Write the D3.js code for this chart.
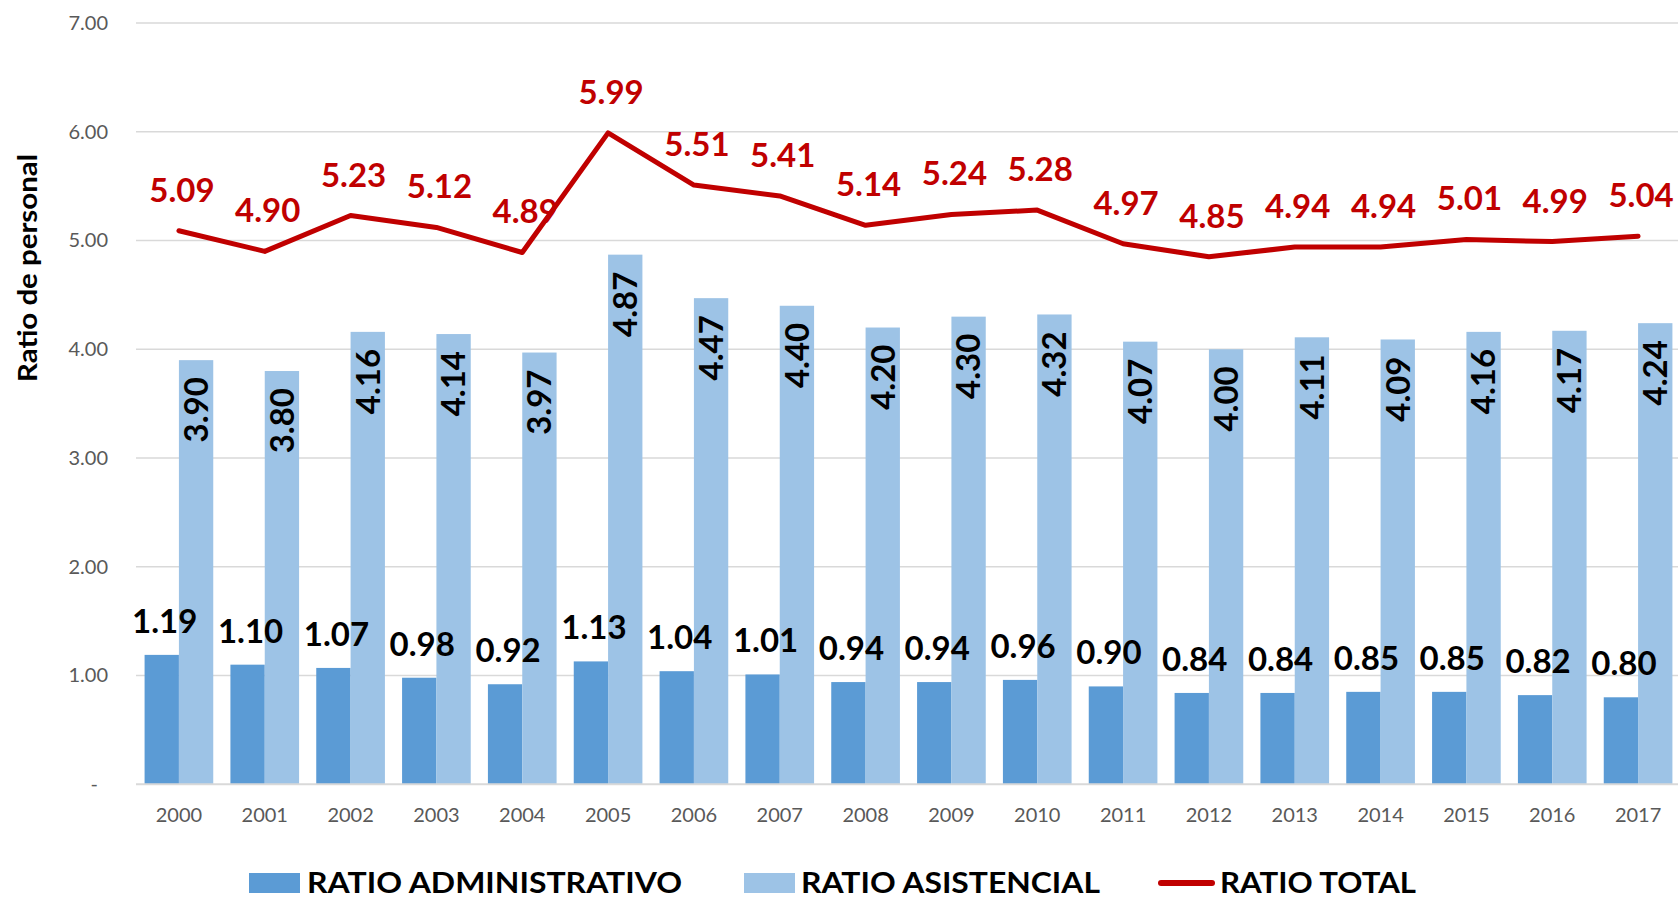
<!DOCTYPE html>
<html>
<head>
<meta charset="utf-8">
<script src="https://cdn.jsdelivr.net/npm/d3@7"></script>
<style>
  html, body { margin: 0; padding: 0; background: #fff; overflow: hidden; }
  svg { display: block; }
</style>
</head>
<body>
<svg id="chart" width="1678" height="897"></svg>
<script>
const years = ["2000","2001","2002","2003","2004","2005","2006","2007","2008","2009","2010","2011","2012","2013","2014","2015","2016","2017"];
const ratioAdministrativo = [1.19,1.10,1.07,0.98,0.92,1.13,1.04,1.01,0.94,0.94,0.96,0.90,0.84,0.84,0.85,0.85,0.82,0.80];
const ratioAsistencial = [3.90,3.80,4.16,4.14,3.97,4.87,4.47,4.40,4.20,4.30,4.32,4.07,4.00,4.11,4.09,4.16,4.17,4.24];
const ratioTotal = [5.09,4.90,5.23,5.12,4.89,5.99,5.51,5.41,5.14,5.24,5.28,4.97,4.85,4.94,4.94,5.01,4.99,5.04];
const yTicks = [0,1,2,3,4,5,6,7];
const seriesNames = ["RATIO ADMINISTRATIVO","RATIO ASISTENCIAL","RATIO TOTAL"];
const yTitle = "Ratio de personal";

const colAdmin = "#5b9bd5", colAsist = "#9dc3e6", colTotal = "#c00000";
const font = "Lato, 'Open Sans', sans-serif";

const svg = d3.select("#chart");
const x = d3.scaleBand().domain(years).range([136, 1681]).paddingInner(0.2).paddingOuter(0.1);
const xs = d3.scaleBand().domain(["a","b"]).range([0, x.bandwidth()]);
const y = d3.scaleLinear().domain([0,7]).range([784.3, 23]);

// gridlines
svg.append("g").selectAll("line").data(yTicks.filter(d => d > 0)).join("line")
  .attr("x1", 136).attr("x2", 1678)
  .attr("y1", d => y(d)).attr("y2", d => y(d))
  .attr("stroke", "#d9d9d9").attr("stroke-width", 1.5);

// y axis
const yAxis = svg.append("g").attr("transform", "translate(136,0)")
  .call(d3.axisLeft(y).tickValues(yTicks).tickSize(0).tickPadding(28)
    .tickFormat(d => d === 0 ? "-" : d3.format(".2f")(d)));
yAxis.select(".domain").remove();
yAxis.selectAll("text").attr("font-family", font).attr("font-size", 20).attr("fill", "#595959");
yAxis.selectAll(".tick").filter(d => d === 0).select("text").attr("dx", -10);

// bars
const gA = svg.append("g");
gA.selectAll("rect").data(years).join("rect")
  .attr("x", d => x(d) + xs("a")).attr("width", xs.bandwidth())
  .attr("y", (d,i) => y(ratioAdministrativo[i]))
  .attr("height", (d,i) => y(0) - y(ratioAdministrativo[i]))
  .attr("fill", colAdmin);
const gB = svg.append("g");
gB.selectAll("rect").data(years).join("rect")
  .attr("x", d => x(d) + xs("b")).attr("width", xs.bandwidth())
  .attr("y", (d,i) => y(ratioAsistencial[i]))
  .attr("height", (d,i) => y(0) - y(ratioAsistencial[i]))
  .attr("fill", colAsist);

// x axis baseline
svg.append("line").attr("x1", 136).attr("x2", 1678).attr("y1", y(0)).attr("y2", y(0))
  .attr("stroke", "#d9d9d9").attr("stroke-width", 2);

const xAxis = svg.append("g").attr("transform", `translate(0,${y(0)})`)
  .call(d3.axisBottom(x).tickSize(0).tickPadding(24));
xAxis.select(".domain").remove();
xAxis.selectAll("text").attr("font-family", font).attr("font-size", 20).attr("fill", "#595959");

// admin labels
svg.append("g").selectAll("text").data(years).join("text")
  .attr("x", d => x(d) + xs("a") + xs.bandwidth()/2 + 3)
  .attr("y", (d,i) => y(ratioAdministrativo[i]) - 22)
  .attr("text-anchor", "middle")
  .attr("font-family", font).attr("font-weight", 700).attr("font-size", 33).attr("fill", "#000")
  .text((d,i) => d3.format(".2f")(ratioAdministrativo[i]));

// asistencial labels (rotated, inside bar)
svg.append("g").selectAll("text").data(years).join("text")
  .attr("transform", (d,i) => `translate(${x(d) + xs("b") + xs.bandwidth()/2},${y(ratioAsistencial[i]) + 17}) rotate(-90)`)
  .attr("dy", "0.36em")
  .attr("text-anchor", "end")
  .attr("font-family", font).attr("font-weight", 700).attr("font-size", 33).attr("fill", "#000")
  .text((d,i) => d3.format(".2f")(ratioAsistencial[i]));

// total line
const line = d3.line().x((d,i) => x(years[i]) + x.bandwidth()/2).y(d => y(d));
svg.append("path").datum(ratioTotal).attr("d", line)
  .attr("fill", "none").attr("stroke", colTotal).attr("stroke-width", 5)
  .attr("stroke-linejoin", "round").attr("stroke-linecap", "round");

svg.append("g").selectAll("text").data(ratioTotal).join("text")
  .attr("x", (d,i) => x(years[i]) + x.bandwidth()/2 + 3)
  .attr("y", d => y(d) - 29)
  .attr("text-anchor", "middle")
  .attr("font-family", font).attr("font-weight", 700).attr("font-size", 33).attr("fill", colTotal)
  .text(d => d3.format(".2f")(d));

// y title
svg.append("text")
  .attr("transform", "translate(37,268) rotate(-90)")
  .attr("text-anchor", "middle")
  .attr("font-family", font).attr("font-weight", 700).attr("font-size", 27).attr("fill", "#000")
  .attr("textLength", 228).attr("lengthAdjust", "spacingAndGlyphs")
  .text(yTitle);

// legend
const lg = svg.append("g");
const legendItems = [
  {name: seriesNames[0], type: "rect", color: colAdmin, sx: 249, tx: 307, tl: 375},
  {name: seriesNames[1], type: "rect", color: colAsist, sx: 744, tx: 801, tl: 299},
  {name: seriesNames[2], type: "line", color: colTotal, sx: 1158, tx: 1220, tl: 196}
];
legendItems.forEach(it => {
  if (it.type === "rect") {
    lg.append("rect").attr("x", it.sx).attr("y", 873).attr("width", 51).attr("height", 20).attr("fill", it.color);
  } else {
    lg.append("line").attr("x1", it.sx + 3).attr("x2", it.sx + 54).attr("y1", 883).attr("y2", 883)
      .attr("stroke", it.color).attr("stroke-width", 6).attr("stroke-linecap", "round");
  }
  lg.append("text").attr("x", it.tx).attr("y", 892.5)
    .attr("font-family", font).attr("font-weight", 700).attr("font-size", 29).attr("fill", "#000")
    .attr("textLength", it.tl).attr("lengthAdjust", "spacingAndGlyphs")
    .text(it.name);
});
</script>
</body>
</html>
